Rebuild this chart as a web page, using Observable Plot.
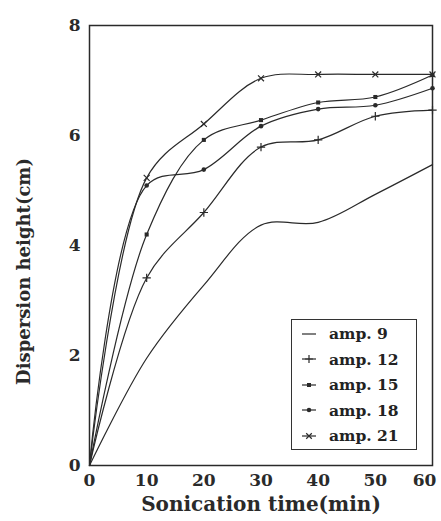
<!DOCTYPE html>
<html>
<head>
<meta charset="utf-8">
<script src="https://cdn.jsdelivr.net/npm/d3@7"></script>
<script src="https://cdn.jsdelivr.net/npm/@observablehq/plot@0.6"></script>
<style>
  html, body { margin: 0; padding: 0; background: #fff; }
  #wrap { position: relative; width: 441px; height: 521px; overflow: hidden; }
  #legend { position: absolute; left: 291px; top: 319px; width: 126px; height: 131px;
    border: 1.5px solid #333; background: #fff; box-sizing: border-box; padding-top: 1px;
    font-family: "DejaVu Serif", serif; font-weight: bold; font-size: 15.5px; color: #222; }
  .row { display: flex; align-items: center; height: 25.5px; }
  .row svg { margin-left: 9px; margin-right: 12px; }
</style>
</head>
<body>
<div id="wrap"></div>
<script>
const time = [0, 10, 20, 30, 40, 50, 60];
const amp9  = [0, 1.95, 3.28, 4.37, 4.42, 4.93, 5.47];
const amp12 = [0, 3.41, 4.60, 5.79, 5.92, 6.35, 6.46];
const amp15 = [0, 4.20, 5.92, 6.28, 6.60, 6.70, 7.10];
const amp18 = [0, 5.09, 5.38, 6.17, 6.48, 6.55, 6.86];
const amp21 = [0, 5.23, 6.21, 7.04, 7.11, 7.11, 7.11];
const seriesNames = ["amp. 9", "amp. 12", "amp. 15", "amp. 18", "amp. 21"];
const seriesValues = [amp9, amp12, amp15, amp18, amp21];
const seriesSymbols = [null, "plus", "square", "circle", "times"];
const xTicks = [0, 10, 20, 30, 40, 50, 60];
const yTicks = [0, 2, 4, 6, 8];
const xLabel = "Sonication time(min)";
const yLabel = "Dispersion height(cm)";

const rows = [];
seriesNames.forEach((name, i) => {
  time.forEach((t, j) => rows.push({series: name, time: t, value: seriesValues[i][j], symbol: seriesSymbols[i]}));
});
const markerRows = rows.filter(d => d.symbol && d.time > 0);
const ink = "#2a2a2a";

const plot = Plot.plot({
  width: 441,
  height: 521,
  marginLeft: 89,
  marginRight: 9,
  marginTop: 25,
  marginBottom: 56,
  style: {fontFamily: "DejaVu Serif, serif", fontWeight: "bold", fontSize: "17px", color: ink, background: "transparent"},
  x: {domain: [0, 60]},
  y: {domain: [0, 8]},
  symbol: {domain: ["plus", "square", "circle", "times"], range: ["plus", "square", "circle", "times"]},
  marks: [
    Plot.frame({stroke: ink, strokeWidth: 1.5}),
    Plot.axisX({ticks: xTicks.slice(0, -1), tickSize: 0, tickPadding: 8, label: null, tickFormat: d => String(d)}),
    Plot.axisX({ticks: xTicks.slice(-1), tickSize: 0, tickPadding: 8, dx: -8, label: null, tickFormat: d => String(d)}),
    Plot.axisY({ticks: yTicks, tickSize: 0, tickPadding: 9, label: null, tickFormat: d => String(d)}),
    Plot.line(rows, {x: "time", y: "value", z: "series", curve: "catmull-rom", stroke: ink, strokeWidth: 1.2}),
    Plot.dot(markerRows.filter(d => d.symbol === "square" || d.symbol === "circle"),
      {x: "time", y: "value", symbol: "symbol", r: 2.3, fill: ink, stroke: "none"}),
    Plot.dot(markerRows.filter(d => d.symbol === "plus" || d.symbol === "times"),
      {x: "time", y: "value", symbol: "symbol", r: 2.8, stroke: ink, strokeWidth: 1.2}),
    Plot.text([xLabel], {frameAnchor: "bottom", dy: 45, fontSize: 20, fontWeight: "bold", fill: ink}),
    Plot.text([yLabel], {frameAnchor: "left", textAnchor: "middle", rotate: -90, dx: -65, dy: 26, fontSize: 18, fontWeight: "bold", fill: ink})
  ]
});
const wrap = document.getElementById("wrap");
wrap.appendChild(plot);

// legend box inside the plot area
const legend = document.createElement("div");
legend.id = "legend";
const symMap = {plus: d3.symbolPlus, square: d3.symbolSquare, circle: d3.symbolCircle, times: d3.symbolTimes};
seriesNames.forEach((name, i) => {
  const row = document.createElement("div");
  row.className = "row";
  const s = d3.create("svg").attr("width", 16).attr("height", 10);
  s.append("line").attr("x1", 1).attr("x2", 15).attr("y1", 5).attr("y2", 5).attr("stroke", ink).attr("stroke-width", 1.2);
  const sym = seriesSymbols[i];
  if (sym) {
    const filled = sym === "square" || sym === "circle";
    s.append("path").attr("transform", "translate(8,5)")
      .attr("d", d3.symbol(symMap[sym], filled ? 16 : 22)())
      .attr("fill", filled ? ink : "none").attr("stroke", filled ? "none" : ink).attr("stroke-width", 1.2);
  }
  row.appendChild(s.node());
  const label = document.createElement("span");
  label.textContent = name;
  row.appendChild(label);
  legend.appendChild(row);
});
wrap.appendChild(legend);
</script>
</body>
</html>
